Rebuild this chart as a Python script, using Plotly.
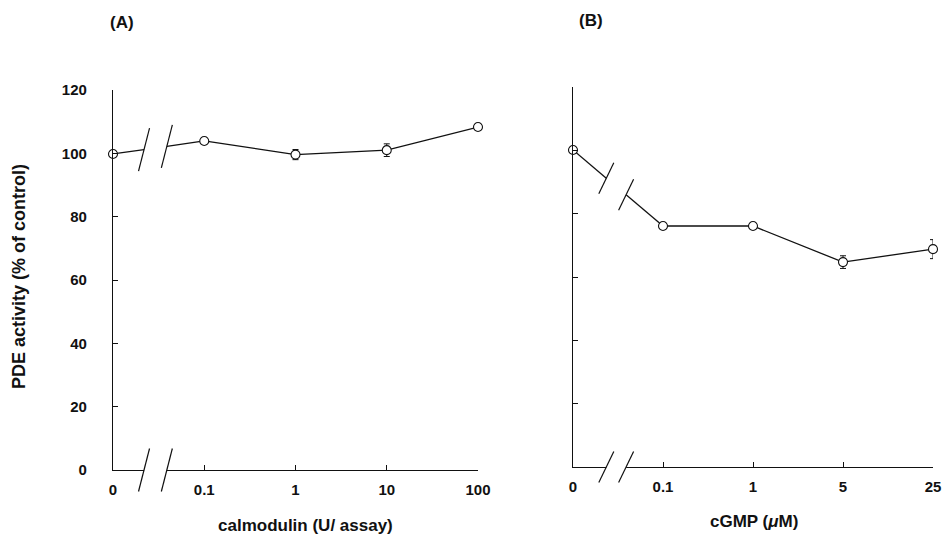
import plotly.graph_objects as go

# ---------------- data ----------------
cal_labels = ["0", "0.1", "1", "10", "100"]
cal_values = [99.8, 103.9, 99.6, 101.0, 108.3]
cal_err = [0, 0, 1.6, 2.0, 0]

cgmp_labels = ["0", "0.1", "1", "5", "25"]
cgmp_values = [100.1, 76.1, 76.1, 64.7, 68.8]
cgmp_err = [0, 0, 0, 2.0, 3.0]

y_ticks = [0, 20, 40, 60, 80, 100, 120]

# ---------------- layout constants ----------------
W, H = 946, 535
FONT = "Liberation Sans, Arial, Helvetica, sans-serif"
BLACK = "#111111"

# pixel boxes of the two plot areas (left, right, bottom, top)
boxA = (113, 478, 470, 90)
boxB = (573, 933, 467, 87)
YR = [0, 120]

def dom_x(box):
    return [box[0] / W, box[1] / W]

def dom_y(box):
    return [1 - box[2] / H, 1 - box[3] / H]

fig = go.Figure()

panels = [
    dict(xa="x", ya="y", box=boxA, labels=cal_labels, vals=cal_values, err=cal_err,
         brk=(0.34, 0.59), slash=(11, 43)),
    dict(xa="x2", ya="y2", box=boxB, labels=cgmp_labels, vals=cgmp_values, err=cgmp_err,
         brk=(0.37, 0.59), slash=(15, 31)),
]

shapes = []
for p in panels:
    n = len(p["labels"])
    xs = list(range(n))
    v = p["vals"]
    box = p["box"]
    px_per_x = (box[1] - box[0]) / (n - 1)
    b1, b2 = p["brk"]

    def on_line(t, v=v):
        return v[0] + (v[1] - v[0]) * t

    for (xa0, xa1) in [(0, b1), (b2, 1)]:
        fig.add_trace(go.Scatter(
            x=[xa0, xa1], y=[on_line(xa0), on_line(xa1)], mode="lines",
            line=dict(color=BLACK, width=1.3), xaxis=p["xa"], yaxis=p["ya"],
            showlegend=False, hoverinfo="skip", cliponaxis=False))
    fig.add_trace(go.Scatter(
        x=xs[1:], y=v[1:], mode="lines+markers",
        line=dict(color=BLACK, width=1.3),
        marker=dict(symbol="circle", size=9, color="white", line=dict(color=BLACK, width=1.1)),
        error_y=dict(type="data", array=p["err"][1:], color=BLACK, thickness=1, width=3),
        xaxis=p["xa"], yaxis=p["ya"], showlegend=False, cliponaxis=False))
    fig.add_trace(go.Scatter(
        x=xs[:1], y=v[:1], mode="markers",
        marker=dict(symbol="circle", size=9, color="white", line=dict(color=BLACK, width=1.1)),
        error_y=dict(type="data", array=p["err"][:1], color=BLACK, thickness=1, width=3),
        xaxis=p["xa"], yaxis=p["ya"], showlegend=False, cliponaxis=False))

    shapes.append(dict(type="rect", xref=p["xa"], yref=p["ya"] + " domain",
                       x0=b1, x1=b2, y0=-0.02, y1=0.02,
                       fillcolor="white", line=dict(width=0), layer="above"))
    sw, sh = p["slash"]
    dx = sw / 2 / px_per_x
    dyd = sh / 2 / (box[2] - box[3])
    for t in (b1, b2):
        shapes.append(dict(type="line", xref=p["xa"], yref=p["ya"] + " domain",
                           x0=t - dx, x1=t + dx, y0=-dyd, y1=dyd,
                           line=dict(color=BLACK, width=1.2), layer="above"))
        yc = (on_line(t) - YR[0]) / (YR[1] - YR[0])
        shapes.append(dict(type="line", xref=p["xa"], yref=p["ya"] + " domain",
                           x0=t - dx, x1=t + dx, y0=yc - dyd, y1=yc + dyd,
                           line=dict(color=BLACK, width=1.2), layer="above"))

tickfont = dict(family=FONT, size=15, color=BLACK, weight="bold")
xcommon = dict(range=[0, 4], showgrid=False, zeroline=False, showline=True,
               linecolor=BLACK, linewidth=1.2, ticks="inside", ticklen=5,
               tickcolor=BLACK, tickwidth=1, tickfont=tickfont, automargin=False,
               tickmode="array", tickvals=list(range(5)), ticklabelstandoff=6)
ycommon = dict(range=YR, showgrid=False, zeroline=False, showline=True,
               linecolor=BLACK, linewidth=1.2, ticks="inside", ticklen=5,
               tickcolor=BLACK, tickwidth=1, tickfont=tickfont, automargin=False,
               tickmode="array", tickvals=y_ticks, ticklabelstandoff=22)

fig.update_layout(
    width=W, height=H,
    margin=dict(l=0, r=0, t=0, b=0, autoexpand=False),
    paper_bgcolor="white", plot_bgcolor="white",
    xaxis=dict(xcommon, domain=dom_x(boxA), ticktext=cal_labels, anchor="y"),
    yaxis=dict(ycommon, domain=dom_y(boxA), anchor="x"),
    xaxis2=dict(xcommon, domain=dom_x(boxB), ticktext=cgmp_labels, anchor="y2"),
    yaxis2=dict(ycommon, domain=dom_y(boxB), anchor="x2", showticklabels=False),
    shapes=shapes,
    showlegend=False,
)

titlefont = dict(family=FONT, size=17, color=BLACK, weight="bold")
ann = [
    dict(text="(A)", x=122 / W, y=1 - 22 / H, font=dict(family=FONT, size=17, color=BLACK, weight="bold")),
    dict(text="(B)", x=591 / W, y=1 - 20 / H, font=dict(family=FONT, size=17, color=BLACK, weight="bold")),
    dict(text="calmodulin (U/ assay)", x=305 / W, y=1 - 525 / H, font=titlefont),
    dict(text="cGMP (<i>μ</i>M)", x=754 / W, y=1 - 521 / H, font=titlefont),
    dict(text="PDE activity (% of control)", x=19 / W, y=1 - 277 / H, textangle=-90,
         font=dict(family=FONT, size=18, color=BLACK, weight="bold")),
]
for a in ann:
    fig.add_annotation(xref="paper", yref="paper", showarrow=False,
                       xanchor="center", yanchor="middle", **a)

fig.write_html("out.html", config={"displayModeBar": False},
               post_script="document.body.style.margin='0px';document.body.style.overflow='hidden';")
